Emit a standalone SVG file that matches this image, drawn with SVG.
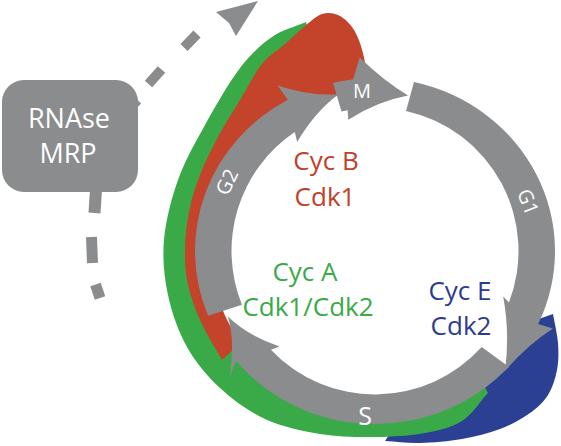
<svg xmlns="http://www.w3.org/2000/svg" width="561" height="446" viewBox="0 0 561 446">
<style>
.g{fill:#8b8c8e}
.w{font-family:"Open Sans","Noto Sans",sans-serif;fill:#ffffff;text-anchor:middle}
.c{font-family:"Open Sans","Noto Sans",sans-serif;font-size:26px;text-anchor:middle}
.dash{stroke:#8b8c8e;fill:none;stroke-linecap:butt}
</style>
<rect width="561" height="446" fill="#ffffff"/>
<g id="cyc-e-band">
<path fill="#2b3f93" d="M385,441 C396.67,441.67 407.17,443.33 420,443 C432.83,442.67 448.67,441.33 462,439 C475.33,436.67 488.67,433.33 500,429 C511.33,424.67 522,418.67 530,413 C538,407.33 543.5,402.17 548,395 C552.5,387.83 555.33,378.67 557,370 C558.67,361.33 558.67,352.33 558,343 C557.33,333.67 554.67,323.67 553,314 L530,322 L515,345 L508,368 L490,372 L460,392 L420,410 L395,426 Z"/>
</g>
<g id="cyc-a-band">
<path fill="#3aaa48" d="M306,22 C294.67,27 283,29.33 272,37 C261,44.67 251.17,53.33 240,68 C228.83,82.67 215.33,106.33 205,125 C194.67,143.67 184.83,160.83 178,180 C171.17,199.17 165.67,220.83 164,240 C162.33,259.17 164.17,277.17 168,295 C171.83,312.83 178.33,331.5 187,347 C195.67,362.5 207,376 220,388 C233,400 248.33,411.33 265,419 C281.67,426.67 301.67,431 320,434 C338.33,437 357.5,437.17 375,437 C392.5,436.83 410.5,435.67 425,433 C439.5,430.33 451.5,427.67 462,421 C472.5,414.33 479.33,402.33 488,393 L478.84,375.34 A165,160 0 1 1 324.01,98.83 Z"/>
</g>
<g id="cyc-b-band">
<path fill="#c4432b" d="M222,360 C215,347.33 206.67,334.5 201,322 C195.33,309.5 190.67,297 188,285 C185.33,273 184.83,262.17 185,250 C185.17,237.83 186.5,224.5 189,212 C191.5,199.5 195,187.83 200,175 C205,162.17 212.33,147.5 219,135 C225.67,122.5 232.83,111.83 240,100 C247.17,88.17 254.5,73.33 262,64 C269.5,54.67 277.83,50.33 285,44 C292.17,37.67 298.83,31 305,26 C311.17,21 316.5,15.83 322,14 C327.5,12.17 333,12.83 338,15 C343,17.17 348.17,21.83 352,27 C355.83,32.17 358.5,38.5 361,46 C363.5,53.5 365,63.33 367,72 L352,86 L338.11,95.1 A164,160 0 0 0 240.66,342.77 Z"/>
</g>
<g id="phase-g1">
<path class="g" d="M406.05,110.9 A143.5,143.5 0 0 1 508.97,302.43 L503.2,296.4 Q510,333 505,371 Q526,346 552.9,328.4 L538.14,324.11 A180,173 0 0 0 413.95,82.1 Z"/>
<text class="w" font-size="20" transform="rotate(68 528 202)" x="528" y="209">G1</text>
</g>
<g id="phase-s">
<path class="g" d="M481.64,347.02 A143.5,143.5 0 0 1 270.91,349.78 L279.54,346.46 Q247.56,335.67 227.92,316.49 Q235.42,342.69 229.34,377.62 L236.11,361.04 A180,173 0 0 0 508.77,366.76 Z"/>
<text class="w" font-size="25" x="365" y="425">S</text>
</g>
<g id="phase-g2">
<path class="g" d="M241.95,304.76 A143.5,143.5 0 0 1 294.76,132.03 L297.19,141.91 Q315.1,111.3 338.78,94.13 Q311.1,96.7 277.55,85.57 L287.73,99.69 A180,173 0 0 0 208.11,315.81 Z"/>
<text class="w" font-size="20" transform="rotate(-65 227 182)" x="227" y="189">G2</text>
</g>
<g id="phase-m">
<path class="g" d="M341.5,111.46 L347.62,110.14 L348.28,119.69 Q377.6,101 408.06,95.47 Q383.9,81.2 359.78,57.6 L353.06,79.29 L332.98,82.78 Z"/>
<text class="w" font-size="20" x="362" y="98">M</text>
</g>
<g id="label-cycb" fill="#c0402a">
<text class="c" x="326" y="170">Cyc B</text>
<text class="c" x="325" y="206">Cdk1</text>
</g>
<g id="label-cyca" fill="#3aaa48">
<text class="c" x="305" y="281">Cyc A</text>
<text class="c" x="308" y="316">Cdk1/Cdk2</text>
</g>
<g id="label-cyce" fill="#2d3b8e">
<text class="c" x="460" y="300">Cyc E</text>
<text class="c" x="461" y="335">Cdk2</text>
</g>
<g id="rnase-mrp">
<rect class="g" x="2" y="80" width="136" height="112" rx="22"/>
<text class="w" font-size="27" x="69" y="128">RNAse</text>
<text class="w" font-size="27" x="68" y="163">MRP</text>
</g>
<g id="connectors">
<path class="dash" stroke-width="10" d="M126,112 L137.5,100 M148.5,84 L161.5,69.5 M184,47.5 L197,34"/>
<polygon class="g" points="258,1 216,12 229,23 236,36"/>
<path class="dash" stroke-width="12" d="M96,190 L94.5,213"/>
<path class="dash" stroke-width="11" d="M91.5,237 L92.5,263 M95.5,284.5 L100,298"/>
</g>
</svg>
